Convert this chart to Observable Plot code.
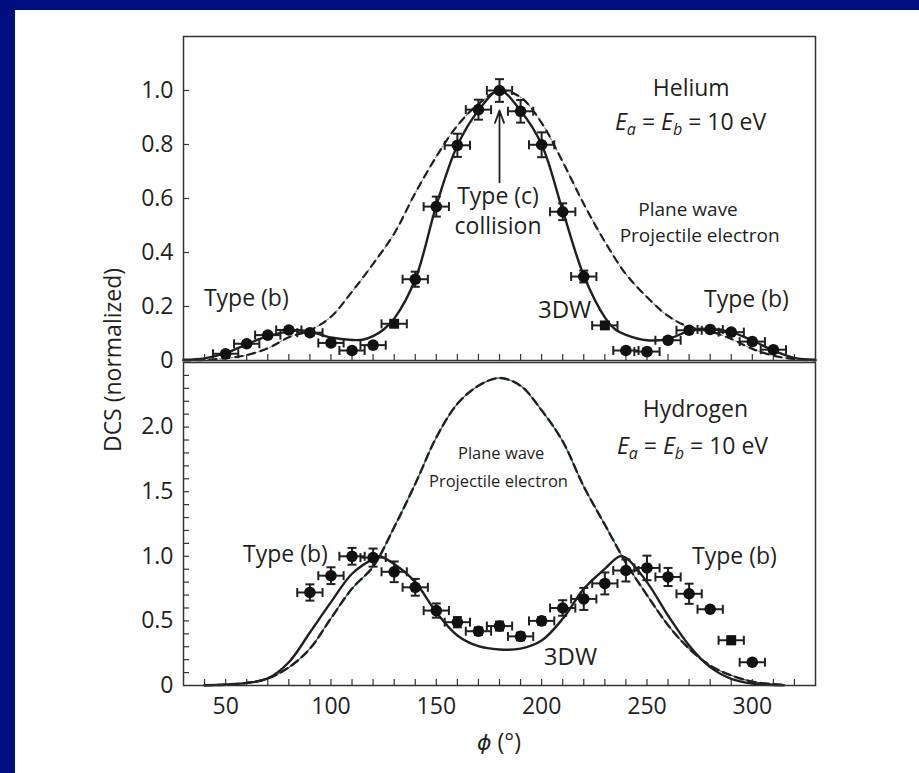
<!DOCTYPE html>
<html><head><meta charset="utf-8">
<script src="https://cdn.jsdelivr.net/npm/d3@7"></script>
<script src="https://cdn.jsdelivr.net/npm/@observablehq/plot@0.6"></script>
<style>
html,body{margin:0;padding:0;background:#000f80;}
#page{position:relative;width:919px;height:773px;overflow:hidden;font-family:'Open Sans',sans-serif;color:#231f20;}
#paper{position:absolute;left:15px;top:10px;right:0;bottom:0;background:#fff;}
.lab{position:absolute;white-space:nowrap;font-size:23px;line-height:1;}
#ylab{left:112px;top:360px;transform:translate(-50%,-50%) rotate(-90deg);}
#xlab{left:499px;top:742px;transform:translate(-50%,-50%);}
#xlab i{font-family:'DejaVu Sans',sans-serif;font-size:22px;}
</style></head>
<body><div id="page"><div id="paper"></div>
<div id="ylab" class="lab">DCS (normalized)</div>
<div id="xlab" class="lab"><i>&#x3D5;</i> (&#xB0;)</div>
</div>
<script>
// ---------- data ----------
const PHI_ERR = 6; // horizontal error bar half-width (degrees)

// Helium experiment
const heAngle  = [50,60,70,80,90,100,110,120,130,140,150,160,170,180,190,200,210,220,230,240,250,260,270,280,290,300,310];
const heDCS    = [0.025,0.062,0.094,0.113,0.103,0.065,0.037,0.057,0.136,0.301,0.570,0.797,0.929,1.0,0.923,0.799,0.551,0.311,0.130,0.037,0.033,0.075,0.112,0.115,0.105,0.070,0.040];
const heErr    = [0.01,0.01,0.01,0.01,0.01,0.01,0.01,0.01,0.01,0.028,0.037,0.043,0.037,0.042,0.042,0.046,0.031,0.022,0.01,0.01,0.01,0.01,0.01,0.01,0.01,0.01,0.01];
const heMarker = ["circle","circle","circle","circle","circle","circle","circle","circle","square","circle","circle","circle","circle","circle","circle","circle","circle","circle","square","circle","circle","circle","circle","circle","circle","circle","circle"];

// Helium 3DW theory
const he3dwAngle = [30,40,50,60,70,80,85,90,100,110,115,120,125,130,140,150,160,170,180,190,200,210,220,230,235,240,250,260,270,275,280,290,300,310,320,330];
const he3dwDCS   = [0.003,0.008,0.027,0.06,0.09,0.108,0.111,0.107,0.085,0.076,0.077,0.09,0.115,0.155,0.30,0.574,0.796,0.926,1.0,0.925,0.80,0.555,0.315,0.16,0.115,0.095,0.075,0.08,0.11,0.117,0.116,0.105,0.074,0.037,0.01,0.003];

// Helium plane-wave projectile theory
const hePwAngle = [30,40,50,60,70,80,90,100,110,120,130,140,150,160,170,180,190,200,210,220,230,240,250,260,270,280,290,300,310,320,330];
const hePwDCS   = [0,0.002,0.008,0.02,0.045,0.086,0.112,0.162,0.255,0.358,0.47,0.62,0.755,0.87,0.95,1.0,0.975,0.88,0.736,0.58,0.44,0.32,0.235,0.165,0.124,0.108,0.08,0.043,0.018,0.005,0];

// Hydrogen experiment
const hAngle  = [90,100,110,120,130,140,150,160,170,180,190,200,210,220,230,240,250,260,270,280,290,300];
const hDCS    = [0.72,0.85,1.0,0.99,0.88,0.76,0.58,0.49,0.42,0.46,0.38,0.50,0.60,0.67,0.79,0.89,0.91,0.84,0.71,0.59,0.35,0.18];
const hErr    = [0.063,0.065,0.065,0.07,0.08,0.065,0.055,0.04,0.03,0.035,0.03,0.03,0.06,0.085,0.085,0.085,0.095,0.07,0.078,0.01,0.03,0.01];
const hMarker = ["circle","circle","circle","circle","circle","circle","circle","circle","circle","circle","circle","circle","circle","circle","circle","circle","circle","circle","circle","circle","square","circle"];

// Hydrogen 3DW theory
const h3dwAngle = [40,50,60,70,80,90,100,110,120,123,130,140,150,160,170,180,190,200,210,220,230,237,240,250,260,270,280,290,300,310,315];
const h3dwDCS   = [0.002,0.008,0.02,0.055,0.18,0.41,0.645,0.865,0.98,1.0,0.94,0.80,0.567,0.387,0.304,0.279,0.285,0.348,0.516,0.748,0.903,1.0,0.988,0.80,0.542,0.31,0.142,0.052,0.015,0.004,0.002];

// Hydrogen plane-wave projectile theory
const hPwAngle = [40,50,60,70,80,90,100,110,120,130,140,150,160,170,180,190,200,210,220,230,240,250,260,270,280,290,300,310,315];
const hPwDCS   = [0.002,0.006,0.02,0.055,0.14,0.285,0.52,0.75,0.92,1.225,1.56,1.92,2.18,2.32,2.38,2.32,2.13,1.89,1.54,1.245,0.95,0.70,0.467,0.285,0.155,0.078,0.03,0.01,0.005];

// axes
const xDomain = [30, 330];
const xTickLabels = [50,100,150,200,250,300];
const xMinorTicks = [40,50,60,70,80,90,100,110,120,130,140,150,160,170,180,190,200,210,220,230,240,250,260,270,280,290,300,310,320];
const heYTicks = [0,0.2,0.4,0.6,0.8,1.0];
const hYTicks = [0,0.5,1.0,1.5,2.0];
const hYMinor = [0.1,0.2,0.3,0.4,0.5,0.6,0.7,0.8,0.9,1.0,1.1,1.2,1.3,1.4,1.5,1.6,1.7,1.8,1.9,2.0,2.1,2.2,2.3,2.4];

// ---------- build ----------
const ink = "#231f20";
const pts = (a, v, e, m) => a.map((phi, i) => ({phi, dcs: v[i], err: e[i], marker: m[i]}));
const crv = (a, v) => a.map((phi, i) => ({phi, dcs: v[i]}));
const helium = pts(heAngle, heDCS, heErr, heMarker);
const hydrogen = pts(hAngle, hDCS, hErr, hMarker);

const capV = {draw(c, s){const h = Math.sqrt(s/Math.PI); c.moveTo(0,-h); c.lineTo(0,h);}};
const capH = {draw(c, s){const h = Math.sqrt(s/Math.PI); c.moveTo(-h,0); c.lineTo(h,0);}};
const fmt = d => d === 0 ? "0" : d.toFixed(1);

function dataMarks(p) {
  const cap = {stroke: ink, strokeWidth: 2, fill: "none", r: 4.5};
  return [
    Plot.ruleY(p, {y: "dcs", x1: d => d.phi - PHI_ERR, x2: d => d.phi + PHI_ERR, stroke: ink, strokeWidth: 2}),
    Plot.dot(p, {x: d => d.phi - PHI_ERR, y: "dcs", symbol: capV, ...cap}),
    Plot.dot(p, {x: d => d.phi + PHI_ERR, y: "dcs", symbol: capV, ...cap}),
    Plot.ruleX(p, {x: "phi", y1: d => d.dcs - d.err, y2: d => d.dcs + d.err, stroke: ink, strokeWidth: 2}),
    Plot.dot(p, {x: "phi", y: d => d.dcs - d.err, symbol: capH, ...cap}),
    Plot.dot(p, {x: "phi", y: d => d.dcs + d.err, symbol: capH, ...cap}),
    Plot.dot(p.filter(d => d.marker === "circle"), {x: "phi", y: "dcs", r: 5.8, fill: "#111"}),
    Plot.dot(p.filter(d => d.marker === "square"), {x: "phi", y: "dcs", symbol: "square", r: 5.6, fill: "#111"})
  ];
}
function lab(t, x, y, size) {
  return Plot.text([t], {x: () => x, y: () => y, text: d => d, fontSize: size, fill: ink, textAnchor: "middle", lineAnchor: "bottom"});
}
function axes(yTicks, yMinor) {
  return [
    Plot.axisY(yMinor, {tickSize: 6, dx: 6, fill: "none", stroke: "#333", strokeWidth: 1.2, label: null}),
    Plot.axisY(yTicks, {tickSize: 0, tickPadding: 10, tickFormat: fmt, fontSize: 23, fill: ink, label: null}),
    Plot.axisX(xMinorTicks, {tickSize: 6, dy: -6, fill: "none", stroke: "#333", strokeWidth: 1.2, label: null})
  ];
}
const style = {background: "none", overflow: "visible", fontFamily: "'Open Sans', sans-serif", color: ink};

const topPlot = Plot.plot({
  width: 919, height: 372, marginLeft: 183, marginRight: 104, marginTop: 36, marginBottom: 12,
  x: {domain: xDomain}, y: {domain: [0, 1.2]}, style,
  marks: [
    ...axes(heYTicks, [0.2,0.4,0.6,0.8,1.0]),
    Plot.line(crv(hePwAngle, hePwDCS), {x: "phi", y: "dcs", curve: "catmull-rom", stroke: "#8a8a8a", strokeWidth: 1.2, strokeDasharray: "1.5,2.5"}),
    Plot.line(crv(hePwAngle, hePwDCS), {x: "phi", y: "dcs", curve: "catmull-rom", stroke: ink, strokeWidth: 2.2, strokeDasharray: "7,6"}),
    Plot.line(crv(he3dwAngle, he3dwDCS), {x: "phi", y: "dcs", curve: "catmull-rom", stroke: ink, strokeWidth: 2.4}),
    ...dataMarks(helium),
    Plot.arrow([null], {x1: () => 180, y1: () => 0.66, x2: () => 180, y2: () => 0.926, stroke: ink, strokeWidth: 1.8, headLength: 11, headAngle: 40}),
    lab("Helium", 271, 0.981, 23),
    lab("Ea = Eb = 10 eV", 270.7, 0.852, 23),
    lab("Type (c)", 179.3, 0.581, 23),
    lab("collision", 179.3, 0.47, 23),
    lab("Plane wave", 269.5, 0.535, 19),
    lab("Projectile electron", 275, 0.439, 19),
    lab("3DW", 210.9, 0.159, 24),
    lab("Type (b)", 59.8, 0.202, 23),
    lab("Type (b)", 297.2, 0.2, 23),
    Plot.frame({stroke: "#333", strokeWidth: 1.5})
  ]
});

const botPlot = Plot.plot({
  width: 919, height: 433, marginLeft: 183, marginRight: 104, marginTop: 22, marginBottom: 88,
  x: {domain: xDomain}, y: {domain: [0, 2.5]}, style,
  marks: [
    ...axes(hYTicks, hYMinor),
    Plot.axisX(xTickLabels, {tickSize: 0, tickPadding: 12, fontSize: 23, fill: ink, label: null}),
    Plot.line(crv(hPwAngle, hPwDCS), {x: "phi", y: "dcs", curve: "catmull-rom", stroke: "#2f7d46", strokeWidth: 1.3}),
    Plot.line(crv(hPwAngle, hPwDCS), {x: "phi", y: "dcs", curve: "catmull-rom", stroke: ink, strokeWidth: 2.4, strokeDasharray: "8,5"}),
    Plot.line(crv(h3dwAngle, h3dwDCS), {x: "phi", y: "dcs", curve: "catmull-rom", stroke: ink, strokeWidth: 2.4}),
    ...dataMarks(hydrogen),
    lab("Hydrogen", 273, 2.079, 23),
    lab("Ea = Eb = 10 eV", 271.6, 1.79, 23),
    lab("Plane wave", 180.8, 1.753, 16.5),
    lab("Projectile electron", 179.5, 1.534, 16.5),
    lab("Type (b)", 78.4, 0.957, 23),
    lab("Type (b)", 291.5, 0.944, 23),
    lab("3DW", 213.7, 0.155, 24),
    Plot.frame({stroke: "#333", strokeWidth: 1.5})
  ]
});

// rich text for E_a = E_b = 10 eV
const NS = "http://www.w3.org/2000/svg";
function richE(svg) {
  svg.querySelectorAll("text").forEach(t => {
    if (t.textContent !== "Ea = Eb = 10 eV") return;
    t.textContent = "";
    const parts = [
      ["E", {"font-style": "italic"}],
      ["a", {"font-style": "italic", "font-size": "16", "dy": "5"}],
      [" = ", {"dy": "-5"}],
      ["E", {"font-style": "italic"}],
      ["b", {"font-style": "italic", "font-size": "16", "dy": "5"}],
      [" = 10 eV", {"dy": "-5"}]
    ];
    for (const [s, attrs] of parts) {
      const ts = document.createElementNS(NS, "tspan");
      for (const k in attrs) ts.setAttribute(k, attrs[k]);
      ts.textContent = s;
      t.appendChild(ts);
    }
    t.setAttribute("xml:space", "preserve");
    t.style.whiteSpace = "pre";
  });
}
richE(topPlot); richE(botPlot);

const page = document.getElementById("page");
for (const [svg, top] of [[topPlot, 0], [botPlot, 340]]) {
  svg.style.position = "absolute";
  svg.style.left = "0px";
  svg.style.top = top + "px";
  page.appendChild(svg);
}
// keep the axis labels on top
page.appendChild(document.getElementById("ylab"));
page.appendChild(document.getElementById("xlab"));
</script></body></html>
